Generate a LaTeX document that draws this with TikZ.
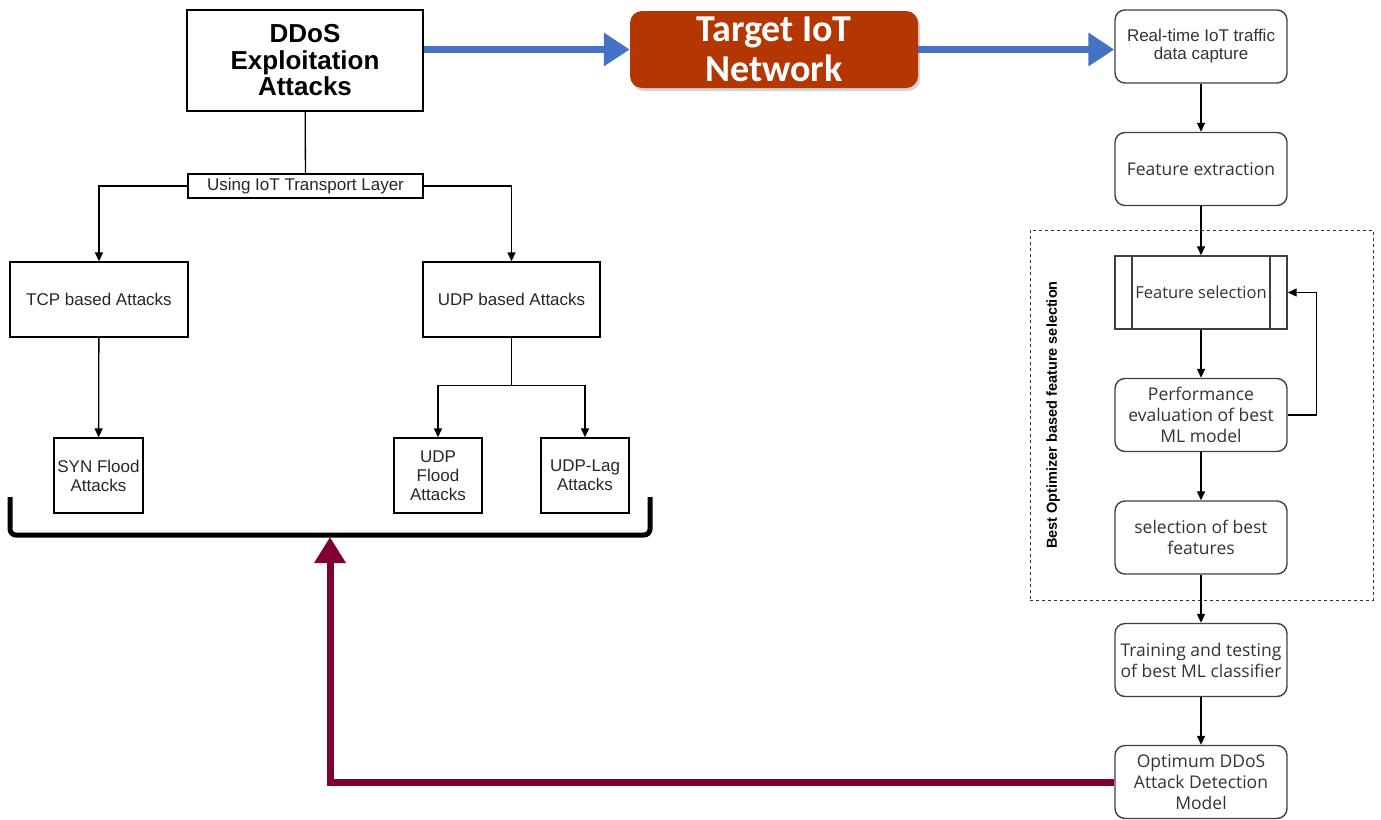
\documentclass[tikz,border=0pt]{standalone}
\usepackage{fontspec}
\setmainfont{Liberation Sans}
\newfontfamily\opensans{Open Sans}
\newfontfamily\carlito{Carlito}
\usetikzlibrary{arrows.meta, positioning, shadows}
\definecolor{targetred}{RGB}{180, 54, 0}
\definecolor{flowblue}{RGB}{68, 114, 196}
\definecolor{backmaroon}{RGB}{128, 0, 50}
\definecolor{boxgray}{RGB}{64, 64, 64}
\tikzset{
    attack/.style={rectangle, draw=black, line width=1.3pt, align=center, inner sep=1pt, text=black!85, font=\fontsize{17}{19}\selectfont},
    stage/.style={rectangle, rounded corners=10pt, draw=boxgray, line width=1.4pt, minimum width=172pt, minimum height=73pt, align=center, inner xsep=1pt, text=black!80, font=\opensans\fontsize{17.5}{21}\selectfont},
    link/.style={-{Triangle[length=9pt,width=8pt]}, line width=1.3pt},
    bluearrow/.style={-{Triangle[length=26pt,width=32pt]}, flowblue, line width=7pt},
    backarrow/.style={-{Triangle[length=26pt,width=30pt]}, backmaroon, line width=7pt}
}
\begin{document}
\begin{tikzpicture}[x=1pt, y=-1pt]
    \useasboundingbox (0,0) rectangle (1381,819);
    % left part: attack tree
    \node (ddos) [attack, minimum width=236pt, minimum height=101pt, font=\bfseries\fontsize{26}{26.5}\selectfont, text=black] at (305,60.5) {DDoS\\Exploitation\\Attacks};
    \node (using) [attack, minimum width=235pt, minimum height=24pt] at (305.5,186) {Using IoT Transport Layer};
    \node (tcp) [attack, minimum width=178pt, minimum height=75pt] at (99,299.5) {TCP based Attacks};
    \node (udp) [attack, minimum width=177pt, minimum height=75pt] at (511.5,299.5) {UDP based Attacks};
    \node (syn) [attack, minimum width=89pt, minimum height=75pt] at (98.5,475.5) {SYN Flood\\Attacks};
    \node (udpflood) [attack, minimum width=88pt, minimum height=75pt] at (438,475.5) {UDP\\Flood\\Attacks};
    \node (udplag) [attack, minimum width=88pt, minimum height=75pt] at (585,475.5) {UDP-Lag\\Attacks};

    \draw [line width=1.3pt] (ddos) -- (using);
    \draw [link] (using.west) -| (tcp.north);
    \draw [link] (using.east) -| (udp.north);
    \draw [link] (tcp) -- (syn);
    \draw [line width=1.3pt] (udp.south) -- ++(0,48) coordinate (udpfork);
    \draw [link] (udpfork) -| (udpflood.north);
    \draw [link] (udpfork) -| (udplag.north);

    % bracket under the attacks
    \draw [line width=5pt, rounded corners=6pt] (10,497) -- (10,535) -- (650,535) -- (650,497);
    \coordinate (brk) at (330,537);

    % target network
    \node (target) [rectangle, rounded corners=12pt, fill=targetred, minimum width=288pt, minimum height=77pt, align=center, text=white, font=\carlito\bfseries\fontsize{38}{40}\selectfont, drop shadow={opacity=0.35, shadow xshift=2pt, shadow yshift=-3pt}] at (774,49.5) {Target IoT\\Network};

    % right part: detection pipeline
    \node (rt) [stage, font=\fontsize{17}{18}\selectfont] at (1201,46.5) {Real-time IoT traffic\\data capture};
    \node (fext) [stage] at (1201,169) {Feature extraction};
    \node (fsel) [stage, rounded corners=0pt, font=\opensans\fontsize{16.5}{21}\selectfont, path picture={
        \draw [boxgray, line width=1.4pt] ([xshift=17pt]path picture bounding box.north west) -- ([xshift=17pt]path picture bounding box.south west);
        \draw [boxgray, line width=1.4pt] ([xshift=-17pt]path picture bounding box.north east) -- ([xshift=-17pt]path picture bounding box.south east);
    }] at (1201,292.5) {Feature selection};
    \node (perf) [stage] at (1201,415) {Performance\\evaluation of best\\ML model};
    \node (sbest) [stage] at (1201,537.5) {selection of best\\features};
    \node (train) [stage] at (1201,660) {Training and testing\\of best ML classifier};
    \node (optimum) [stage] at (1201,782) {Optimum DDoS\\Attack Detection\\Model};

    \node (optframe) [rectangle, draw=black!80, dashed, line width=1pt, minimum width=343pt, minimum height=370pt] at (1201.5,415) {};
    \node (optlabel) [rotate=90, font=\bfseries\fontsize{14.5}{16}\selectfont] at (1053,415) {Best Optimizer based feature selection};

    \draw [link] (rt) -- (fext);
    \draw [link] (fext) -- (fsel);
    \draw [link] (fsel) -- (perf);
    \draw [link] (perf.east) -- ++(29,0) |- (fsel.east);
    \draw [link] (perf) -- (sbest);
    \draw [link] (sbest) -- (train);
    \draw [link] (train) -- (optimum);

    % thick connectors
    \draw [bluearrow] (target.west -| ddos.east) -- (target.west);
    \draw [bluearrow] (target.east) -- (target.east -| rt.west);
    \draw [backarrow] (optimum.west) -| (brk);
\end{tikzpicture}
\end{document}
